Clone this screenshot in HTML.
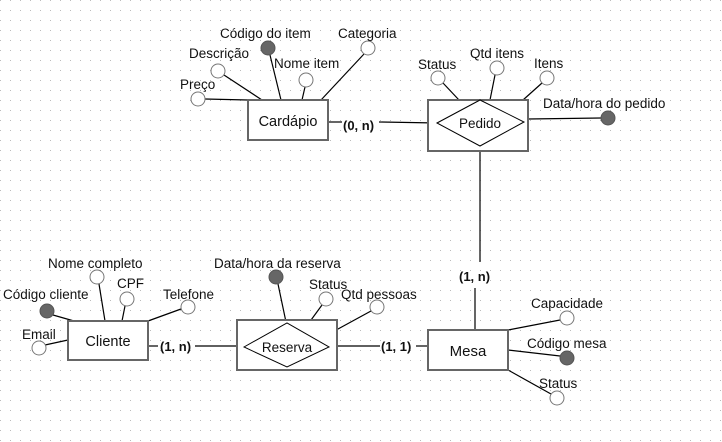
<!DOCTYPE html>
<html><head><meta charset="utf-8"><style>
html,body{margin:0;padding:0;background:#fff;}
svg{display:block;}
text{font-family:"Liberation Sans",sans-serif;font-size:13.5px;fill:#111;}
.b{font-weight:bold;font-size:13px;}
</style></head><body>
<svg width="722" height="442" viewBox="0 0 722 442" xmlns="http://www.w3.org/2000/svg">
<defs><pattern id="g" width="10" height="10" patternUnits="userSpaceOnUse"><rect x="0" y="0" width="1" height="1" fill="#bbb"/></pattern></defs>
<rect width="722" height="442" fill="url(#g)"/>
<g stroke="#000" stroke-width="1.2" fill="none">
<line x1="205" y1="99" x2="248" y2="100"/>
<line x1="224" y1="75" x2="262" y2="100"/>
<line x1="270" y1="55" x2="281" y2="100"/>
<line x1="305" y1="87" x2="302" y2="100"/>
<line x1="364" y1="54" x2="321" y2="100"/>
<line x1="328" y1="122" x2="342" y2="122"/>
<line x1="379" y1="122" x2="437" y2="123"/>
<line x1="443" y1="83" x2="459" y2="100"/>
<line x1="495" y1="75" x2="490" y2="100"/>
<line x1="542" y1="83" x2="523" y2="100"/>
<line x1="528" y1="119" x2="601" y2="118"/>
<line x1="480" y1="151" x2="480" y2="262"/>
<line x1="475" y1="288" x2="475" y2="330"/>
<line x1="508" y1="330" x2="560" y2="320"/>
<line x1="508" y1="350" x2="560" y2="356"/>
<line x1="508" y1="370" x2="551" y2="394"/>
<line x1="278" y1="284" x2="286" y2="322"/>
<line x1="322" y1="305" x2="303" y2="331"/>
<line x1="371" y1="311" x2="316" y2="341"/>
<line x1="337" y1="346" x2="380" y2="346"/>
<line x1="416" y1="346" x2="428" y2="346"/>
<line x1="148" y1="346" x2="158" y2="346"/>
<line x1="195" y1="346" x2="237" y2="346"/>
<line x1="99" y1="284" x2="105" y2="321"/>
<line x1="125" y1="306" x2="122" y2="321"/>
<line x1="181" y1="309" x2="148" y2="321"/>
<line x1="53" y1="315" x2="74" y2="321"/>
<line x1="45" y1="345" x2="68" y2="340"/>
</g>
<g stroke="#666" stroke-width="2" fill="#fff">
<rect x="248" y="100" width="80" height="40"/>
<rect x="428" y="100" width="100" height="51"/>
<rect x="428" y="330" width="80" height="40"/>
<rect x="237" y="320" width="100" height="50"/>
<rect x="68" y="321" width="80" height="39"/>
</g>
<g stroke="#000" stroke-width="1" fill="#fff">
<polygon points="437,123 480,100 524,122 480,146"/>
<polygon points="244,347 287,323 329,347 287,367"/>
</g>
<g stroke="#777" stroke-width="1" fill="#fff">
<circle cx="198" cy="99" r="7"/>
<circle cx="218" cy="71" r="7"/>
<circle cx="306" cy="80" r="7"/>
<circle cx="368" cy="48" r="7"/>
<circle cx="438" cy="78" r="7"/>
<circle cx="497" cy="68" r="7"/>
<circle cx="547" cy="78" r="7"/>
<circle cx="567" cy="318" r="7"/>
<circle cx="557" cy="398" r="7"/>
<circle cx="326" cy="299" r="7"/>
<circle cx="377" cy="307" r="7"/>
<circle cx="97" cy="277" r="7"/>
<circle cx="127" cy="299" r="7"/>
<circle cx="188" cy="307" r="7"/>
<circle cx="39" cy="348" r="7"/>
</g>
<g fill="#666" stroke="#555">
<circle cx="268" cy="48" r="7"/>
<circle cx="608" cy="118" r="7"/>
<circle cx="567" cy="358" r="7"/>
<circle cx="276" cy="277" r="7"/>
<circle cx="47" cy="311" r="7"/>
</g>
<text x="288" y="126" text-anchor="middle" style="font-size:14.5px">Cardápio</text>
<text x="480" y="128" text-anchor="middle" style="font-size:13.5px">Pedido</text>
<text x="468" y="356" text-anchor="middle" style="font-size:15px">Mesa</text>
<text x="287" y="352" text-anchor="middle">Reserva</text>
<text x="108" y="346" text-anchor="middle" style="font-size:14.5px">Cliente</text>
<text x="180" y="89">Preço</text>
<text x="189" y="58">Descrição</text>
<text x="220" y="38">Código do item</text>
<text x="274" y="68">Nome item</text>
<text x="338" y="38">Categoria</text>
<text x="418" y="69">Status</text>
<text x="470" y="58">Qtd itens</text>
<text x="534" y="68">Itens</text>
<text x="543" y="108">Data/hora do pedido</text>
<text x="343" y="130" class="b">(0, n)</text>
<text x="459" y="281" class="b">(1, n)</text>
<text x="381" y="351" class="b">(1, 1)</text>
<text x="160" y="351" class="b">(1, n)</text>
<text x="531" y="308">Capacidade</text>
<text x="527" y="348">Código mesa</text>
<text x="539" y="388">Status</text>
<text x="214" y="268">Data/hora da reserva</text>
<text x="309" y="289">Status</text>
<text x="341" y="299">Qtd pessoas</text>
<text x="48" y="268">Nome completo</text>
<text x="117" y="288">CPF</text>
<text x="163" y="299">Telefone</text>
<text x="3" y="299">Código cliente</text>
<text x="22" y="339">Email</text>
</svg>
</body></html>
